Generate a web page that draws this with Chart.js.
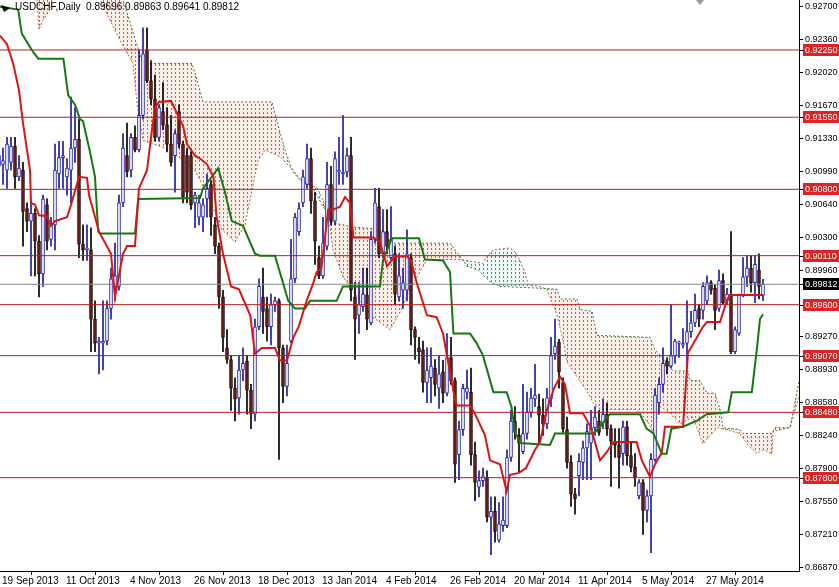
<!DOCTYPE html>
<html>
<head>
<meta charset="utf-8">
<script src="https://cdn.jsdelivr.net/npm/chart.js@4.4.1/dist/chart.umd.min.js"></script>
<style>
  html, body { margin: 0; padding: 0; background: #fff; }
  #wrap { width: 839px; height: 587px; position: relative; }
</style>
</head>
<body>
<div id="wrap"><canvas id="myChart"></canvas></div>
<script>
// USDCHF daily, 19 Sep 2013 .. mid Jun 2014, bar index 0 = 19 Sep 2013
const dateTicks = [0, 16, 32, 48, 64, 80, 96, 112, 128, 144, 160, 176];
const dateLabels = ['19 Sep 2013', '11 Oct 2013', '4 Nov 2013', '26 Nov 2013', '18 Dec 2013', '13 Jan 2014',
    '4 Feb 2014', '26 Feb 2014', '20 Mar 2014', '11 Apr 2014', '5 May 2014', '27 May 2014'];

const opens = [
    .9104, .9106, .9100, .9108, .9125, .9093, .9100, .9060, .9047, .9055, .9026, .8992, .9064, .9028, .9043, .9096,
    .9113, .9093, .9100, .9123, .9132, .9023, .9017, .9017, .8945, .8920, .8920, .8922, .8956, .8979, .8979, .9066,
    .9115, .9100, .9134, .9121, .9157, .9225, .9193, .9174, .9134, .9161, .9147, .9127, .9115, .9161, .9127, .9115,
    .9115, .9066, .9051, .9051, .9070, .9085, .9043, .9021, .8968, .8915, .8903, .8873, .8863, .8892, .8901, .8871,
    .8846, .8937, .8968, .8956, .8937, .8960, .8964, .8915, .8875, .8922, .8987, .9036, .9066, .9085, .9112, .9068,
    .9009, .8990, .9021, .9085, .9047, .9098, .9096, .9098, .9115, .8968, .8949, .8958, .8970, .8941, .9028, .9062,
    .9013, .9036, .9009, .9013, .8968, .8975, .8975, .9009, .8934, .8915, .8913, .8879, .8884, .8894, .8873, .8890,
    .8868, .8905, .8881, .8804, .8830, .8869, .8869, .8804, .8770, .8777, .8780, .8739, .8745, .8715, .8730, .8730,
    .8801, .8839, .8824, .8807, .8826, .8848, .8862, .8854, .8845, .8836, .8862, .8909, .8921, .8879, .8830, .8796,
    .8763, .8782, .8796, .8811, .8816, .8832, .8839, .8837, .8846, .8831, .8818, .8814, .8805, .8833, .8803, .8791,
    .8761, .8775, .8746, .8761, .8799, .8858, .8877, .8901, .8896, .8907, .8920, .8918, .8920, .8932, .8941, .8956,
    .8954, .8964, .8983, .8977, .8956, .8985, .8964, .8971, .8911, .8930, .8970, .8989, .8998, .8983, .8996, .89696
];
const highs = [
    .9127, .9123, .9134, .9134, .9134, .9115, .9108, .9066, .9066, .9060, .9032, .9074, .9070, .9051, .9127, .9130,
    .9130, .9112, .9176, .9165, .9153, .9043, .9043, .9040, .8964, .8926, .8964, .8964, .8998, .9024, .9074, .9138,
    .9149, .9138, .9146, .9225, .9248, .9248, .9214, .9199, .9168, .9191, .9165, .9157, .9142, .9168, .9130, .9123,
    .9119, .9077, .9074, .9070, .9096, .9089, .9051, .9024, .8975, .8934, .8907, .8884, .8907, .8915, .8907, .8877,
    .8945, .8987, .8998, .8968, .8971, .8968, .8966, .8918, .8918, .9028, .9055, .9066, .9100, .9127, .9123, .9077,
    .9021, .9051, .9108, .9104, .9119, .9134, .9157, .9123, .9134, .8983, .8983, .8998, .8998, .9036, .9081, .9081,
    .9059, .9059, .9062, .9021, .9013, .8998, .9038, .9013, .8937, .8926, .8922, .8915, .8915, .8903, .8907, .8902,
    .8930, .8926, .8884, .8839, .8877, .8892, .8894, .8817, .8787, .8790, .8787, .8760, .8760, .8754, .8760, .8809,
    .8850, .8854, .8831, .8877, .8869, .8873, .8898, .8867, .8862, .8873, .8926, .8945, .8924, .8884, .8843, .8803,
    .8769, .8805, .8818, .8836, .8850, .8854, .8850, .8862, .8858, .8835, .8831, .8831, .8839, .8839, .8817, .8805,
    .8778, .8778, .8767, .8805, .8873, .8884, .8915, .8905, .8960, .8924, .8922, .8935, .8964, .8953, .8971, .8960,
    .8983, .8990, .8985, .8981, .8996, .8992, .8977, .9036, .8937, .8971, .9009, .9011, .9011, .9011, .9013, .89863
];
const lows = [
    .9089, .9085, .9081, .9100, .9081, .9089, .9021, .9036, .8990, .8990, .8968, .8979, .9017, .9021, .9017, .9081,
    .9081, .9074, .9066, .9108, .9009, .9006, .9006, .8911, .8911, .8888, .8892, .8918, .8945, .8964, .8975, .9062,
    .9093, .9093, .9119, .9119, .9153, .9191, .9168, .9130, .9130, .9142, .9119, .9104, .9077, .9123, .9066, .9066,
    .9059, .9040, .9043, .9036, .9051, .9032, .9013, .8956, .8911, .8899, .8850, .8839, .8846, .8881, .8846, .8831,
    .8839, .8934, .8930, .8922, .8918, .8953, .8799, .8858, .8865, .8920, .8983, .9032, .9062, .9081, .9055, .9002,
    .8987, .8987, .9017, .9043, .9043, .9085, .9085, .9093, .8964, .8903, .8930, .8953, .8934, .8939, .9024, .9009,
    .9009, .9013, .9006, .8960, .8964, .8956, .8964, .8918, .8903, .8899, .8869, .8858, .8858, .8865, .8852, .8858,
    .8865, .8877, .8775, .8778, .8824, .8862, .8793, .8756, .8760, .8771, .8734, .8700, .8713, .8713, .8724, .8728,
    .8797, .8820, .8786, .8805, .8820, .8843, .8854, .8816, .8824, .8831, .8854, .8903, .8873, .8827, .8790, .8750,
    .8742, .8761, .8778, .8778, .8778, .8824, .8824, .8831, .8824, .8771, .8801, .8769, .8793, .8793, .8786, .8771,
    .8758, .8721, .8734, .8702, .8797, .8846, .8869, .8888, .8894, .8899, .8905, .8915, .8896, .8926, .8937, .8937,
    .8945, .8960, .8971, .8934, .8953, .8960, .8960, .8909, .8909, .8928, .8968, .8979, .8973, .8962, .8966, .89641
];
const closes = [
    .9115, .9110, .9127, .9125, .9093, .9102, .9057, .9047, .9055, .9026, .8992, .9070, .9026, .9043, .9100, .9113,
    .9115, .9102, .9123, .9132, .9023, .9017, .9019, .8945, .8920, .8922, .8922, .8956, .8987, .8990, .9066, .9123,
    .9098, .9134, .9121, .9157, .9221, .9193, .9174, .9134, .9165, .9147, .9127, .9108, .9138, .9127, .9072, .9077,
    .9064, .9074, .9066, .9064, .9081, .9051, .9021, .8968, .8926, .8903, .8873, .8862, .8892, .8899, .8871, .8846,
    .8937, .8979, .8953, .8937, .8960, .8964, .8915, .8875, .8899, .8987, .9051, .9060, .9093, .9112, .9068, .9026,
    .8990, .9024, .9085, .9047, .9112, .9100, .9098, .9115, .8975, .8945, .8960, .8971, .8945, .9028, .9066, .9013,
    .9036, .9021, .9028, .8971, .8990, .8983, .9013, .8934, .8926, .8911, .8879, .8892, .8896, .8877, .8888, .8868,
    .8905, .8881, .8794, .8830, .8873, .8873, .8804, .8775, .8777, .8782, .8739, .8745, .8724, .8732, .8736, .8801,
    .8839, .8827, .8816, .8826, .8848, .8863, .8866, .8845, .8836, .8863, .8907, .8917, .8890, .8831, .8796, .8763,
    .8758, .8797, .8811, .8828, .8832, .8843, .8827, .8846, .8831, .8818, .8814, .8801, .8833, .8803, .8791, .8780,
    .8775, .8746, .8761, .8799, .8866, .8877, .8899, .8896, .8907, .8922, .8921, .8920, .8932, .8941, .8954, .8945,
    .8979, .8983, .8975, .8954, .8985, .8962, .8971, .8911, .8934, .8970, .8989, .8998, .8983, .9002, .8979, .89812
];

// Ichimoku lines as [bar, price]
const tenkan = [
    [0.25, .9240], [2, .9231], [3.6, .9210], [5, .9183], [6, .9149], [7.75, .9100], [8, .9066], [9, .9064],
    [10, .9053], [12, .9052], [13, .9042], [14, .9047], [17, .9051], [18, .9064], [20, .9093], [22, .9092],
    [22.5, .9074], [25, .9036], [28, .9013], [29, .8968], [31, .9013], [32, .9021], [34, .9021], [35, .9081],
    [37, .9100], [38, .9134], [39, .9165], [40, .9171], [43, .9172], [46, .9146], [47, .9127], [49, .9115],
    [50.25, .9112], [52, .9106], [53.6, .9093], [54.4, .9051], [56, .9013], [58, .8979], [60, .8976], [62.8, .8949],
    [64, .8909], [65.7, .8915], [69, .8915], [70.25, .8902], [72, .8902], [73.6, .8926], [75, .8938], [76.9, .8964],
    [78.6, .8983], [79.4, .8994], [80.6, .8998], [82.3, .9059], [83.6, .9059], [85.25, .9062], [86.5, .9072],
    [87.75, .9066], [88.6, .9030], [93.6, .9030], [95.25, .9025], [97, .9000], [99, .9010], [102, .9010],
    [103, .9006], [104.4, .8983], [107, .8949], [109.4, .8947], [111, .8930], [112.3, .8900], [113.6, .8870],
    [114.4, .8855], [117.75, .8855], [119.4, .8843], [121.5, .8824], [122.75, .8798], [125.25, .8794], [126.9, .8766],
    [127.75, .8783], [130, .8785], [131.75, .8790], [134, .8809], [135.25, .8817], [137, .8851], [138.75, .8873],
    [140.25, .8885], [141.5, .8877], [142.75, .8847], [146, .8847], [147.75, .8834], [149, .8817], [150.25, .8798],
    [152, .8807], [153.6, .8817], [159.4, .8817], [160.7, .8798], [162.75, .8781], [164, .8794], [165.7, .8806],
    [166.5, .8833], [171, .8833], [172.25, .8910], [176, .8937], [177, .8942], [180.25, .8942], [182, .8965],
    [182.75, .8970], [191, .8970]
];
const kijun = [
    [0.25, .9270], [4.8, .9267], [5.7, .9242], [8.2, .9225], [9.8, .9216], [16.1, .9216], [17.3, .9178], [19, .9168],
    [20.25, .9153], [21, .9151], [22.75, .9119], [24, .9093], [24.8, .9036], [25.25, .9034], [34, .9034], [34.8, .9070],
    [50.25, .9071], [51, .9081], [54.8, .9102], [56.5, .9077], [58.2, .9047], [61, .9042], [64, .9013], [65.25, .9011],
    [69, .9011], [70.7, .8987], [72.3, .8964], [74, .8956], [76.5, .8956], [77.75, .8964], [84.4, .8964], [86, .8979],
    [95.25, .8979], [96, .9006], [98.2, .9029], [105, .9029], [106.5, .9007], [111, .9006], [112.75, .8994],
    [113.6, .8930], [117.75, .8930], [119.4, .8920], [121, .8907], [123.6, .8869], [126.9, .8869], [128.1, .8854],
    [129, .8828], [130.25, .8816], [137.75, .8814], [139, .8826], [148.6, .8826], [150.25, .8833], [152.75, .8846],
    [160.25, .8846], [161.9, .8831], [163.6, .8826], [165.7, .8805], [166.9, .8805], [168.1, .8831], [171, .8833],
    [174.4, .8839], [176.9, .8846], [182.3, .8848], [183.2, .8869], [188.2, .8869], [189.5, .8915], [190.25, .8945],
    [191, .8950]
];
const spanA = [
    [0.25, .9290], [7.75, .9285], [9.5, .9277], [10, .9246], [11, .9256], [12.75, .9267], [13.5, .9277], [15.25, .9290],
    [24, .9290], [25.25, .9277], [30.25, .9235], [33.5, .9211], [34.5, .9170], [36, .9131], [42.75, .9121], [49, .9100],
    [52.75, .9069], [55.75, .9038], [59, .9025], [61.5, .9043], [63.25, .9079], [64.75, .9110], [66.5, .9121],
    [70.25, .9114], [73.5, .9100], [76, .9087], [79.5, .9082], [81, .9069], [82.75, .9041], [83.5, .9017], [86, .8989],
    [89.5, .8968], [93.5, .8947], [97.75, .8934], [100.25, .8952], [102.75, .8976], [105.25, .8994], [107, .9007],
    [115.25, .9007], [121, .9003], [122, .9010], [123.5, .9017], [127.75, .9019], [129, .9015], [130.25, .9006],
    [131.5, .8994], [132.25, .8981], [135.25, .8979], [137, .8976], [139.5, .8949], [141, .8923], [142, .8900],
    [144.5, .8885], [147, .8870], [148.5, .8858], [150.25, .8851], [159.5, .8851], [162, .8839], [163.5, .8828],
    [165.25, .8854], [167.25, .8849], [170.25, .8836], [173.5, .8843], [176, .8815], [177.75, .8824], [179.75, .8832],
    [185.25, .8826], [187, .8815], [189.5, .8805], [191, .8809], [193.25, .8805], [193.5, .8828], [197.75, .8832],
    [200, .8865]
];
const spanB = [
    [0.25, .9300], [30.25, .9300], [31, .9277], [35.25, .9220], [36, .9211], [48.25, .9211], [49.5, .9194], [51, .9171],
    [68.25, .9171], [69.75, .9147], [71.5, .9121], [73.5, .9098], [75.25, .9090], [78.25, .9083], [80.75, .9064],
    [83.5, .9045], [88.5, .9041], [96, .9038], [97.75, .9024], [112.75, .9024], [114.75, .9013], [116, .9006],
    [117, .9000], [119.75, .8996], [122.75, .8984], [125.25, .8979], [136, .8977], [139.5, .8976], [140.25, .8966],
    [144.5, .8966], [145.25, .8955], [148.25, .8953], [149.5, .8928], [162.75, .8926], [164, .8913], [165.75, .8906],
    [168.5, .8891], [172.25, .8891], [172.75, .8881], [175.25, .8881], [177, .8868], [179, .8868], [180.25, .8851],
    [181, .8832], [185.25, .8830], [186, .8826], [193.25, .8826], [194, .8832], [197.75, .8832], [200, .8880]
];

const levels = [0.9225, 0.9155, 0.9080, 0.9011, 0.8960, 0.8907, 0.8848, 0.8780];
const lastPrice = 0.89812;
const yTicks = [0.9270, 0.9236, 0.9202, 0.9167, 0.9133, 0.9099, 0.9064, 0.9030, 0.8996,
    0.8927, 0.8893, 0.8858, 0.8824, 0.8790, 0.8755, 0.8721, 0.8687];

const BULL = '#1c1ca8';
const FONT = '"Liberation Sans", Arial, sans-serif';

// price scale font: a narrow face if there is one, else a smaller regular one
function pickAxisFont() {
    const c = document.createElement('canvas').getContext('2d');
    c.font = '11px "Liberation Sans Narrow", monospace';
    const a = c.measureText('0.92700').width;
    c.font = '11px monospace';
    const b = c.measureText('0.92700').width;
    if (a !== b && a < 35) return { family: '"Liberation Sans Narrow", sans-serif', size: 11 };
    return { family: FONT, size: 9 };
}
const axisFont = pickAxisFont();

function dotPattern(color, tint) {
    const p = document.createElement('canvas');
    p.width = 4;
    p.height = 4;
    const g = p.getContext('2d');
    g.fillStyle = tint;
    g.fillRect(0, 0, 4, 4);
    g.fillStyle = color;
    g.fillRect(3, 0, 1, 2);
    return g.createPattern(p, 'repeat');
}

function toPoints(list) {
    return list.map(p => ({ x: p[0], y: p[1] }));
}

const isBull = closes.map((c, i) => c >= opens[i]);
const wickData = highs.map((h, i) => ({ x: i, y: [lows[i], h] }));
const bodyData = opens.map((o, i) => ({ x: i, y: [Math.min(o, closes[i]), Math.max(o, closes[i])] }));

// red tags on the price axis for the levels, black one for the last price
const levelTags = {
    id: 'levelTags',
    afterDraw(chart) {
        const { ctx } = chart;
        const y = chart.scales.y;
        ctx.save();
        ctx.font = axisFont.size + 'px ' + axisFont.family;
        ctx.textBaseline = 'middle';
        ctx.textAlign = 'left';
        function tag(v, bg) {
            const py = Math.round(y.getPixelForValue(v));
            ctx.fillStyle = '#000';
            ctx.fillRect(799, py, 4, 1);
            ctx.fillStyle = bg;
            ctx.fillRect(803, py - 6, 36, 12);
            ctx.fillStyle = '#fff';
            ctx.fillText(v.toFixed(5), 805, py + 1);
        }
        levels.forEach(v => tag(v, '#dc2424'));
        tag(lastPrice, '#000');
        ctx.restore();
    }
};

const header = {
    id: 'header',
    afterDraw(chart) {
        const { ctx } = chart;
        ctx.save();
        ctx.fillStyle = '#000';
        ctx.beginPath();
        ctx.moveTo(1, 5);
        ctx.lineTo(10, 8);
        ctx.lineTo(4, 12);
        ctx.closePath();
        ctx.fill();
        ctx.font = '10px ' + FONT;
        ctx.textBaseline = 'middle';
        ctx.fillText('USDCHF,Daily  0.89696 0.89863 0.89641 0.89812', 15, 7);
        // chart shift marker
        ctx.fillStyle = '#9a9a9a';
        ctx.beginPath();
        ctx.moveTo(696, 0);
        ctx.lineTo(704, 0);
        ctx.lineTo(700, 5);
        ctx.closePath();
        ctx.fill();
        ctx.restore();
    }
};

const datasets = [
    {
        type: 'line', data: toPoints(spanA), borderColor: '#b4643c', borderWidth: 1, borderDash: [2, 2],
        pointRadius: 0, order: 10,
        fill: {
            target: '+1',
            above: dotPattern('#2e9a94', 'rgba(200, 240, 236, 0.35)'),
            below: dotPattern('#dc5a3c', 'rgba(250, 214, 196, 0.4)')
        }
    },
    {
        type: 'line', data: toPoints(spanB), borderColor: '#3c783c', borderWidth: 1, borderDash: [2, 2],
        pointRadius: 0, fill: false, order: 9
    }
];
levels.forEach(v => {
    datasets.push({
        type: 'line', data: [{ x: 0, y: v }, { x: 200, y: v }], borderColor: '#b41e1e', borderWidth: 1,
        pointRadius: 0, fill: false, order: 3
    });
});
datasets.push({
    type: 'line', data: [{ x: 0, y: lastPrice }, { x: 200, y: lastPrice }], borderColor: '#7d8c8c', borderWidth: 1,
    pointRadius: 0, fill: false, order: 3
});
datasets.push({
    type: 'bar', data: wickData, backgroundColor: isBull.map(b => b ? BULL : '#000'),
    barThickness: 1, grouped: false, order: 6
});
datasets.push({
    type: 'bar', data: bodyData, backgroundColor: isBull.map(b => b ? '#fff' : '#7a1c1c'),
    borderColor: isBull.map(b => b ? BULL : '#1a0505'), borderWidth: 1, borderSkipped: false,
    barThickness: 3, grouped: false, minBarLength: 1, order: 5
});
datasets.push({
    type: 'line', data: toPoints(kijun), borderColor: '#127812', borderWidth: 2, pointRadius: 0, fill: false, order: 2
});
datasets.push({
    type: 'line', data: toPoints(tenkan), borderColor: '#dc1414', borderWidth: 2, pointRadius: 0, fill: false, order: 1
});

Chart.defaults.font.family = FONT;
Chart.defaults.font.size = 10;
Chart.defaults.color = '#000';

const ctx = document.getElementById('myChart').getContext('2d');
const myChart = new Chart(ctx, {
    type: 'line',
    data: { datasets: datasets },
    options: {
        responsive: true,
        maintainAspectRatio: false,
        animation: false,
        layout: { padding: 0 },
        plugins: { legend: { display: false }, tooltip: { enabled: false } },
        scales: {
            x: {
                type: 'linear', min: 0.25, max: 200, offset: false,
                grid: { drawOnChartArea: false, drawTicks: true, tickLength: 4, color: '#000' },
                border: { display: true, color: '#000' },
                ticks: {
                    autoSkip: false, maxRotation: 0, minRotation: 0, align: 'start', labelOffset: 3, padding: 0,
                    callback: v => dateLabels[dateTicks.indexOf(v)]
                },
                afterBuildTicks: s => { s.ticks = dateTicks.map(v => ({ value: v })); },
                afterFit: s => { s.height = 16; s.paddingLeft = 0; s.paddingRight = 0; }
            },
            y: {
                type: 'linear', position: 'right', min: 0.86829, max: 0.92770,
                grid: { drawOnChartArea: false, drawTicks: true, tickLength: 4, color: '#000' },
                border: { display: true, color: '#000' },
                ticks: {
                    autoSkip: false, padding: 2, font: { family: axisFont.family, size: axisFont.size },
                    callback: v => v.toFixed(5)
                },
                afterBuildTicks: s => { s.ticks = yTicks.map(v => ({ value: v })); },
                afterFit: s => { s.width = 40; s.paddingTop = 0; s.paddingBottom = 0; }
            }
        }
    },
    plugins: [levelTags, header]
});
</script>
</body>
</html>
